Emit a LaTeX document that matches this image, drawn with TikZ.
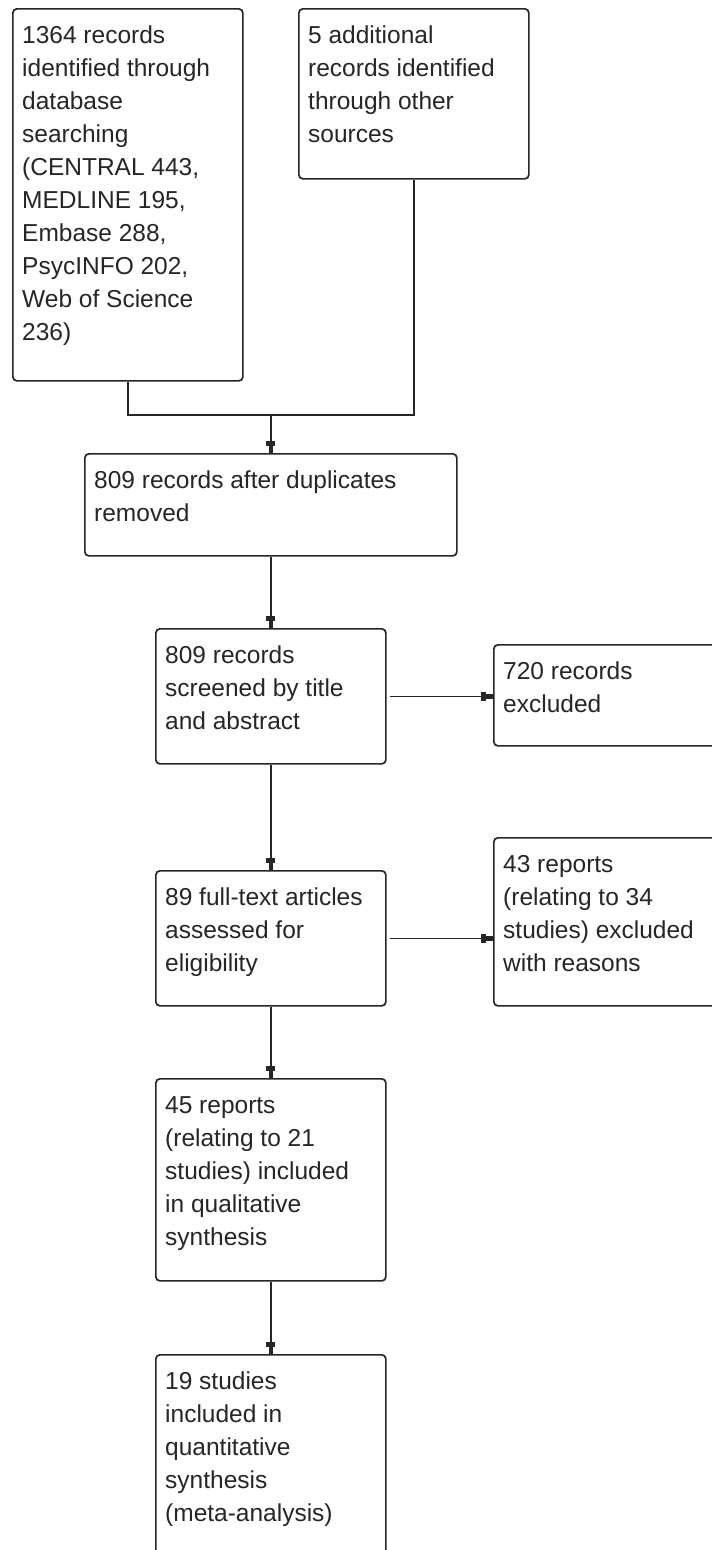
\documentclass[tikz,border=0pt]{standalone}
\usepackage{fontspec}
\setmainfont{Liberation Sans}
\usetikzlibrary{arrows.meta,calc}
\begin{document}
\begin{tikzpicture}[x=1pt,y=-1pt,
  box/.style={draw=black!85, line width=1.7pt, rounded corners=4pt, inner sep=0pt, anchor=north west},
  txt/.style={anchor=north west, inner sep=0pt, align=left, text=black!85, font=\fontsize{24.5}{33}\selectfont},
  link/.style={line width=1.7pt, draw=black!85},
  flow/.style={link, -{Rectangle[width=9pt,length=5pt,sep=0pt]Rectangle[width=4.5pt,length=7pt]}}]
\useasboundingbox (0,0) rectangle (712,1550);
\clip (0,0) rectangle (712,1550);
\fill[white] (0,0) rectangle (712,1550);
% boxes
\node[box, minimum width=230pt, minimum height=372pt] (b1) at (12,8) {};
\node[box, minimum width=230pt, minimum height=170pt] (b2) at (298,8) {};
\node[box, minimum width=372pt, minimum height=102pt] (b3) at (84,453) {};
\node[box, minimum width=230pt, minimum height=135pt] (b4) at (155,628) {};
\node[box, minimum width=240pt, minimum height=101pt] (b5) at (493,644) {};
\node[box, minimum width=230pt, minimum height=135pt] (b6) at (155,870) {};
\node[box, minimum width=240pt, minimum height=168pt] (b7) at (493,837) {};
\node[box, minimum width=230pt, minimum height=202pt] (b8) at (155,1078) {};
\node[box, minimum width=230pt, minimum height=240pt] (b9) at (155,1354) {};
% texts
\newcommand{\fl}{\rule{0pt}{24pt}}
\node[txt] (t1) at ($(b1.north west)+(10,11)$) {\fl 1364 records\\identified through\\database\\searching\\(CENTRAL 443,\\MEDLINE 195,\\Embase 288,\\PsycINFO 202,\\Web of Science\\236)};
\node[txt] (t2) at ($(b2.north west)+(10,11)$) {\fl 5 additional\\records identified\\through other\\sources};
\node[txt] (t3) at ($(b3.north west)+(10,11)$) {\fl 809 records after duplicates\\removed};
\node[txt] (t4) at ($(b4.north west)+(10,11)$) {\fl 809 records\\screened by title\\and abstract};
\node[txt] (t5) at ($(b5.north west)+(10,11)$) {\fl 720 records\\excluded};
\node[txt] (t6) at ($(b6.north west)+(10,11)$) {\fl 89 full-text articles\\assessed for\\eligibility};
\node[txt] (t7) at ($(b7.north west)+(10,11)$) {\fl 43 reports\\(relating to 34\\studies) excluded\\with reasons};
\node[txt] (t8) at ($(b8.north west)+(10,11)$) {\fl 45 reports\\(relating to 21\\studies) included\\in qualitative\\synthesis};
\node[txt] (t9) at ($(b9.north west)+(10,11)$) {\fl 19 studies\\included in\\quantitative\\synthesis\\(meta-analysis)};
% connectors
\coordinate (m) at (b3.north |- 0,415);
\draw[link] (b1.south) |- (b2.south |- m) -- (b2.south);
\draw[flow] (m) -- (b3.north);
\draw[flow] (b3.south) -- (b4.north);
\draw[flow] ([xshift=3pt]b4.east) -- (b4.east -| b5.west);
\draw[flow] (b4.south) -- (b6.north);
\draw[flow] ([xshift=3pt]b6.east) -- (b6.east -| b7.west);
\draw[flow] (b6.south) -- (b8.north);
\draw[flow] (b8.south) -- (b9.north);
\end{tikzpicture}
\end{document}
